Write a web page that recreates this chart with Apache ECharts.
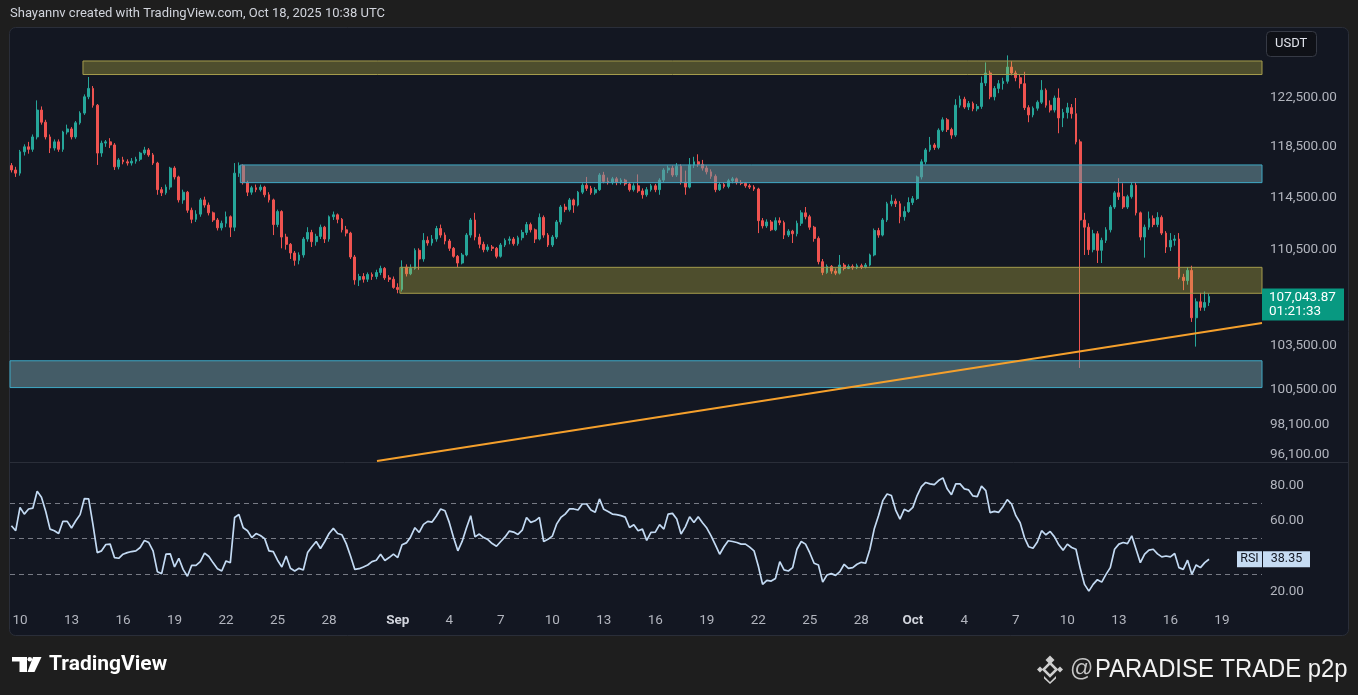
<!DOCTYPE html>
<html><head><meta charset="utf-8">
<script src="https://cdn.jsdelivr.net/npm/echarts@6/dist/echarts.min.js"></script>
<style>html,body{margin:0;padding:0;background:#1e1e1e;}#c{width:1358px;height:695px;}</style>
</head><body><div id="c"></div>
<script>
// ---- data (BTC/USDT, 6h candles) ----
const firstCandle = '2025-08-09T12:00:00Z';
const candleHours = 6;
// [open, close, low, high]
const ohlc = [
[117000,116650,116450,117200],[116650,116400,116100,116900],
[116400,118100,116200,118250],[118100,118500,117800,118700],[118500,118300,117950,118900],[118300,119300,118100,119500],
[119300,121500,119100,122300],[121500,120500,120300,121800],[120500,119300,119100,120700],[119300,118400,118000,119500],
[118400,118900,118200,119100],[118900,118300,118100,119100],[118300,119700,118100,119800],[119700,119950,119500,120300],
[119950,119300,119100,120100],[119300,120450,119150,120600],[120450,121250,120300,121400],[121250,122600,121100,122800],
[122600,123300,122400,124260],[123300,121900,121700,123500],[121900,118000,117050,122000],[118000,118800,117700,119000],
[118800,118900,118500,119050],[118900,118650,118400,119200],[118650,116900,116650,118800],[116900,117450,116700,117600],
[117450,117300,117100,117700],[117300,117200,117000,117500],[117200,117350,117000,117600],[117350,117500,117150,117700],
[117500,118000,117350,118100],[118000,118250,117850,118500],[118250,117850,117700,118400],[117850,117200,117050,118000],
[117200,115100,114700,117300],[115100,114850,114600,115300],[114850,115300,114700,115500],[115300,116800,115100,116900],
[116800,116100,115900,116950],[116100,114300,114100,116200],[114300,114900,114000,115100],[114900,113500,113300,115000],
[113500,112800,112500,113700],[112800,113200,112600,113500],[113200,114300,113000,114450],[114300,113900,113700,114550],
[113900,113300,113100,114100],[113300,112750,112600,113400],[112750,112150,111950,112900],[112150,112500,111950,112700],
[112500,113000,112200,113400],[113000,112200,111450,113100],[112200,116400,111900,117200],[116400,117000,116100,117250],
[117000,115650,115500,117100],[115650,114900,114600,115800],[114900,115250,114700,115400],[115250,115100,114900,115500],
[115100,115300,114950,115500],[115300,114700,114500,115400],[114700,114300,114100,114900],[114300,112400,111600,114400],
[112400,113400,112200,113550],[113400,111450,110600,113500],[111450,110900,110500,111700],[110900,110250,109800,111000],
[110250,109700,109300,110400],[109700,110100,109400,110300],[110100,111300,109900,111450],[111300,111800,111100,112200],
[111800,111100,110700,112000],[111100,111500,110800,111700],[111500,112200,111300,112400],[112200,111300,111000,112300],
[111300,113000,111100,113100],[113000,113150,112750,113400],[113150,112800,112500,113250],[112800,112000,111800,112900],
[112000,111750,111500,112300],[111750,109950,109800,111850],[109950,108250,107900,110100],[108250,108500,107800,108700],
[108500,108300,108050,108750],[108300,108650,108100,108800],[108650,108500,108250,108800],[108500,108800,108300,109000],
[108800,109100,108600,109300],[109100,108400,108250,109200],[108400,108300,108100,108600],[108300,107700,107600,108500],
[107700,107550,107270,108000],[107550,109200,107400,109700],[109200,108700,108500,109400],[108700,109100,108600,109400],
[109100,110450,109000,110600],[110450,109800,109000,110600],[109800,111200,109600,111750],[111200,111000,110800,111500],
[111000,111300,110800,111600],[111300,112100,111100,112300],[112100,111600,111400,112400],[111600,111150,110900,111800],
[111150,110600,110400,111300],[110600,110000,109900,110700],[110000,109500,109200,110100],[109500,110100,109400,110250],
[110100,111600,110000,111750],[111600,112750,111400,112900],[112750,111450,111200,113300],[111450,110900,110600,111700],
[110900,110500,110300,111100],[110500,110700,110350,110900],[110700,110600,110400,110850],[110600,110000,109850,110700],
[110000,110850,109900,111000],[110850,111200,110700,111350],[111200,111300,110900,111500],[111300,110950,110800,111450],
[110950,111400,110800,111550],[111400,111800,111200,112000],[111800,112400,111600,112600],[112400,112000,111800,112550],
[112000,111300,111000,112100],[111300,112950,111200,113250],[112950,111600,111400,113100],[111600,110850,110700,111750],
[110850,111450,110700,111600],[111450,112600,111300,112750],[112600,113750,112400,113900],[113750,113550,113350,114000],
[113550,114300,113400,114450],[114300,113900,113300,114400],[113900,114900,113800,115000],[114900,115450,114750,115600],
[115450,115200,115000,116100],[115200,114850,114700,115400],[114850,115100,114700,115300],[115100,116250,115000,116400],
[116250,115750,115600,116500],[115750,115650,115500,116050],[115650,115950,115500,116100],[115950,115700,115450,116100],
[115700,115850,115500,116000],[115850,115550,115400,115950],[115550,115100,114950,115700],[115100,115400,114950,115600],
[115400,115000,114850,116300],[115000,114700,114400,115200],[114700,115100,114550,115300],[115100,115400,114950,115550],
[115400,115100,114900,115550],[115100,115850,114700,116000],[115850,116650,115700,116800],[116650,116800,116400,117000],
[116800,116250,116100,117000],[116250,116950,116100,117200],[116950,115700,115500,117100],[115700,115300,114700,116600],
[115300,117050,115200,117600],[117050,117300,116800,117700],[117300,117100,116900,117900],[117100,116800,116600,117450],
[116800,116500,116300,117000],[116500,116150,115950,116700],[116150,115100,114900,116300],[115100,115500,115000,115700],
[115500,115350,115200,115650],[115350,115800,115200,115950],[115800,115950,115600,116100],[115950,115650,115500,116050],
[115650,115600,115450,115850],[115600,115400,115250,115700],[115400,115300,115150,115550],[115300,115150,115000,115450],
[115150,112700,111750,115250],[112700,112300,112100,112900],[112300,112600,112150,112800],[112600,112000,111900,112750],
[112000,112700,111900,112950],[112700,112550,112350,112950],[112550,111600,111300,112700],[111600,111900,111450,112050],
[111900,111700,111000,112000],[111700,112500,111500,112700],[112500,113300,112300,113500],[113300,113000,112800,113750],
[113000,112200,112000,113150],[112200,111350,111100,112300],[111350,109600,109400,111500],[109600,108800,108600,109800],
[108800,109250,108700,109400],[109250,108900,108700,109350],[108900,108750,108600,109100],[108750,109350,108650,110100],
[109350,109100,108950,109500],[109100,109250,109050,109400],[109250,109150,109000,109400],[109150,109300,109050,109450],
[109300,109200,109050,109450],[109200,109350,109100,109500],[109350,110100,109250,110200],[110100,111950,110000,112100],
[111950,111600,111400,112150],[111600,112750,111500,112900],[112750,114000,112600,114150],[114000,114200,113800,114700],
[114200,114000,113750,114400],[114000,113000,112500,114200],[113000,113400,112700,113800],[113400,114100,113300,114500],
[114100,114400,113900,114600],[114400,116100,114300,116200],[116100,117300,115900,117500],[117300,118250,117100,118400],
[118250,118650,118100,119300],[118650,118450,118250,118800],[118450,119850,118300,120000],[119850,120700,119700,120900],
[120700,119900,119700,120850],[119900,119450,119150,120050],[119450,121900,119300,122400],[121900,122400,121700,122700],
[122400,121750,121600,122600],[121750,122050,121500,122250],[122050,121600,121400,122200],[121600,121800,121400,122000],
[121800,123750,121600,124300],[123750,124600,123500,125500],[124600,122600,122400,124800],[122600,123300,122300,123500],
[123300,123700,122900,124000],[123700,123900,123200,124200],[123900,125100,123700,126100],[125100,124600,124400,125600],
[124600,124200,123900,124800],[124200,123700,123300,124500],[123700,121700,121500,124700],[121700,121100,120500,121900],
[121100,121650,120900,121800],[121650,122150,121450,122300],[122150,123150,122000,124000],[123150,121900,121700,123300],
[121900,121500,121300,122300],[121500,122500,121300,122700],[122500,120850,119600,123300],[120850,121300,120100,121600],
[121300,121700,120800,122100],[121700,121200,120800,122000],[121200,118900,118700,122500],[118900,112750,101960,119100],
[112750,112200,110100,113300],[112200,110500,110100,112500],[110500,111700,110300,112000],[111700,110450,109500,111900],
[110450,111200,109500,111400],[111200,112000,111000,112200],[112000,113750,111800,113900],[113750,114850,113600,115000],
[114850,114550,114300,116000],[114550,113750,113600,115600],[113750,114550,113600,114700],[114550,115450,114400,115700],
[115450,113300,113100,115700],[113300,111450,111200,113400],[111450,112200,109900,112400],[112200,112850,112000,113400],
[112850,112400,112200,113100],[112400,112950,112200,113350],[112950,111750,111600,113100],[111750,110700,110250,111900],
[110700,111200,110400,111750],[111200,111300,110800,111600],[111300,108450,108300,111750],[108450,108200,107500,108700],
[108200,108950,107900,109200],[108950,105500,105200,109300],[105500,106650,103450,106900],[106650,106250,106000,107300],
[106250,106600,106000,107400],[106600,107043.87,106350,107250]
];
// RSI(14) per candle
const rsi = [
57.3,54.5,67.7,63.9,66.8,67.3,76.8,73.4,65.4,55.4,
54.5,52.9,59.8,59.8,56.0,60.1,63.6,72.7,72.5,57.9,
42.1,43.1,46.7,46.9,39.3,38.9,41.2,42.1,42.7,43.1,
45.0,49.0,47.8,43.1,31.3,30.2,41.2,41.4,34.0,38.9,
32.6,28.7,34.9,34.9,37.0,41.8,39.9,36.3,33.0,31.7,
37.4,36.4,62.0,63.7,56.2,54.5,50.6,52.9,51.8,50.0,
43.1,42.7,37.8,34.0,40.2,33.2,31.7,33.2,32.3,42.1,
45.4,48.4,44.4,48.4,52.9,55.8,52.9,52.2,47.2,40.2,
32.6,33.0,34.0,35.1,37.0,37.8,41.2,37.6,39.3,41.2,
39.3,46.5,47.6,51.0,56.2,53.5,58.1,59.8,59.4,62.8,
66.8,65.8,59.2,50.6,43.1,48.4,56.0,63.0,51.0,52.6,
50.6,49.5,47.2,45.7,48.4,51.0,54.3,53.7,52.4,54.8,
62.0,59.2,60.1,62.0,48.4,49.6,51.4,58.2,62.0,63.9,
66.8,66.8,66.2,69.6,69.6,66.2,64.9,72.5,66.6,65.4,
63.9,63.6,63.0,62.2,56.3,57.9,54.5,55.4,49.0,53.5,
53.7,57.9,55.4,63.9,64.3,61.1,52.6,56.7,62.4,59.2,
62.4,59.0,56.0,51.6,46.5,41.2,45.4,48.8,48.4,47.8,
46.9,46.9,45.2,43.1,34.5,24.1,26.4,26.0,27.5,37.0,
32.3,31.7,33.6,44.0,48.4,46.9,41.9,36.1,35.1,25.4,
29.4,30.2,29.2,31.3,35.5,33.2,33.6,35.5,36.6,36.1,
44.0,55.4,63.0,71.5,75.3,74.4,66.2,61.1,66.6,65.4,
67.7,74.4,79.5,81.8,81.0,80.6,82.9,84.4,78.2,74.9,
81.0,81.0,78.2,77.6,74.2,73.8,79.7,77.2,64.7,65.4,
64.9,68.1,72.1,69.6,63.0,59.0,50.6,45.4,44.6,48.1,
54.5,52.2,54.1,51.0,46.5,43.5,46.9,45.0,44.0,33.2,
24.1,20.3,24.1,26.8,25.4,29.8,33.6,44.0,46.9,47.8,
47.2,51.6,44.0,36.4,41.2,43.5,44.0,41.4,39.7,40.2,
39.7,41.6,33.6,32.6,37.8,29.8,35.1,33.6,36.4,38.35
];
const lastPrice = 107043.87;
const countdown = '01:21:33';
const rsiLast = 38.35;
const priceTicks = [96100, 98100, 100500, 103500, 110500, 114500, 118500, 122500];
const rsiTicks = [20, 60, 80];
const rsiLevels = [70, 50, 30];
const xTicks = [
 ['2025-08-10','10'],['2025-08-13','13'],['2025-08-16','16'],['2025-08-19','19'],['2025-08-22','22'],
 ['2025-08-25','25'],['2025-08-28','28'],['2025-09-01','Sep'],['2025-09-04','4'],['2025-09-07','7'],
 ['2025-09-10','10'],['2025-09-13','13'],['2025-09-16','16'],['2025-09-19','19'],['2025-09-22','22'],
 ['2025-09-25','25'],['2025-09-28','28'],['2025-10-01','Oct'],['2025-10-04','4'],['2025-10-07','7'],
 ['2025-10-10','10'],['2025-10-13','13'],['2025-10-16','16'],['2025-10-19','19']
];
const viewFrom = '2025-08-09T10:01:00Z';
const viewTo = '2025-10-21T08:03:00Z';
const zones = [
 {from:'2025-08-13T16:00:00Z', low:124470, high:125620, kind:'yellow'},
 {from:'2025-08-22T20:00:00Z', low:115650, high:117050, kind:'blue'},
 {from:'2025-09-01T03:00:00Z', low:107270, high:109180, kind:'yellow'},
 {from:'2025-08-09T10:01:00Z', low:100610, high:102460, kind:'blue'}
];
const trendLine = [['2025-08-30T19:00:00Z', 95714], ['2025-10-21T08:03:00Z', 105125]];

// ---- build ----
const t0 = Date.parse(firstCandle);
const times = ohlc.map((_, i) => t0 + i * candleHours * 3600e3);
const xMin = Date.parse(viewFrom), xMax = Date.parse(viewTo);
const tickMap = {};
xTicks.forEach(([d, l]) => { tickMap[Date.parse(d + 'T00:00:00Z')] = l; });
const tickTimes = Object.keys(tickMap).map(Number);

const UP = '#26a69a', DOWN = '#ef5350';
const FONT = 'Roboto';
const fmtPrice = v => (Math.round(v * 100) / 100).toLocaleString('en-US', {minimumFractionDigits: 2, maximumFractionDigits: 2});
const zoneStyle = {
  yellow: {color: 'rgba(200,190,70,0.33)', borderColor: '#a59c4c', borderWidth: 1},
  blue: {color: 'rgba(110,150,160,0.55)', borderColor: '#3fa9c5', borderWidth: 1}
};

const chart = echarts.init(document.getElementById('c'), null, {renderer: 'canvas'});
chart.setOption({
  animation: false,
  backgroundColor: '#1e1e1e',
  textStyle: {fontFamily: FONT},
  grid: [
    {left: 10, right: 96, top: 28, height: 434},
    {left: 10, right: 96, top: 462, height: 143}
  ],
  xAxis: [
    {type: 'value', gridIndex: 0, min: xMin, max: xMax, axisLine: {show: false}, axisTick: {show: false},
     axisLabel: {show: false}, splitLine: {show: false}},
    {type: 'value', gridIndex: 1, min: xMin, max: xMax, axisLine: {show: false}, axisTick: {show: false},
     splitLine: {show: false},
     axisLabel: {customValues: tickTimes, margin: 9, color: '#b2b5be', fontSize: 13.5, fontFamily: FONT, hideOverlap: false,
       formatter: v => { const l = tickMap[v]; if (l === undefined) return ''; return (l === 'Sep' || l === 'Oct') ? '{m|' + l + '}' : l; },
       rich: {m: {color: '#d1d4dc', fontWeight: 'bold', fontSize: 13.5, fontFamily: FONT}}}}
  ],
  yAxis: [
    {type: 'log', logBase: 10, gridIndex: 0, position: 'right', min: 95646, max: 128470,
     axisLine: {show: false}, axisTick: {show: false}, splitLine: {show: false},
     axisLabel: {customValues: priceTicks, formatter: v => fmtPrice(v), color: '#b2b5be', fontSize: 13.5, margin: 8, fontFamily: FONT}},
    {type: 'value', gridIndex: 1, position: 'right', min: 12.45, max: 93.38,
     axisLine: {show: false}, axisTick: {show: false}, splitLine: {show: false},
     axisLabel: {customValues: rsiTicks, formatter: v => Number(v).toFixed(2), color: '#b2b5be', fontSize: 13.5, margin: 8, fontFamily: FONT}}
  ],
  series: [
    {
      type: 'candlestick', xAxisIndex: 0, yAxisIndex: 0, z: 2, barWidth: 2.3,
      data: ohlc.map((v, i) => [times[i], v[0], v[1], v[2], v[3]]),
      encode: {x: 0, y: [1, 2, 3, 4]},
      itemStyle: {color: UP, color0: DOWN, borderColor: UP, borderColor0: DOWN, borderWidth: 1}
    },
    {
      type: 'line', name: 'overlay', xAxisIndex: 0, yAxisIndex: 0, data: [], clip: false, silent: true,
      markArea: {
        z: 3, silent: true, label: {show: false},
        data: zones.map(zn => [
          {coord: [Date.parse(zn.from), zn.low], itemStyle: zoneStyle[zn.kind]},
          {coord: [xMax, zn.high]}
        ])
      },
      markLine: {
        z: 6, silent: true, symbol: ['none', 'none'], label: {show: false},
        lineStyle: {color: '#f5a02c', width: 2, type: 'solid'},
        data: [[{coord: [Date.parse(trendLine[0][0]), trendLine[0][1]]}, {coord: [Date.parse(trendLine[1][0]), trendLine[1][1]]}]]
      },
      markPoint: {
        z: 7, silent: true,
        data: [{
          coord: [xMax, lastPrice], symbol: 'rect', symbolSize: [82, 32], symbolOffset: [41, 8],
          itemStyle: {color: '#089981'},
          label: {show: true, position: 'inside',
            formatter: '{p|' + fmtPrice(lastPrice) + '}\n{p|' + countdown + '}',
            rich: {p: {color: '#ffffff', fontSize: 13.5, fontFamily: FONT, width: 68, align: 'left', lineHeight: 14}}}
        }]
      }
    },
    {
      type: 'line', name: 'RSI', xAxisIndex: 1, yAxisIndex: 1, clip: false, silent: true,
      data: rsi.map((v, i) => [times[i], v]), showSymbol: false, symbol: 'none',
      lineStyle: {color: '#c3daf3', width: 1.7}, z: 4,
      markLine: {
        z: 1, silent: true, symbol: ['none', 'none'], label: {show: false},
        lineStyle: {color: '#777a85', width: 1, type: [5, 4]},
        data: rsiLevels.map(v => ({yAxis: v}))
      },
      markPoint: {
        z: 7, silent: true,
        data: [
          {coord: [xMax, rsiLast], symbol: 'rect', symbolSize: [25, 16], symbolOffset: [-12.5, 0],
           itemStyle: {color: '#c6dcf3'},
           label: {show: true, position: 'inside', formatter: 'RSI', color: '#131722', fontSize: 12.5, fontFamily: FONT}},
          {coord: [xMax, rsiLast], symbol: 'rect', symbolSize: [47, 16], symbolOffset: [24.5, 0],
           itemStyle: {color: '#c6dcf3'},
           label: {show: true, position: 'inside', formatter: rsiLast.toFixed(2), color: '#131722', fontSize: 12.5, fontFamily: FONT}}
        ]
      }
    }
  ],
  graphic: [
    {type: 'rect', z: -10, silent: true, shape: {x: 9.5, y: 27.5, width: 1339, height: 608, r: 6},
     style: {fill: '#131722', stroke: '#2a2e39', lineWidth: 1}},
    {type: 'line', z: -5, silent: true, shape: {x1: 10, y1: 462.5, x2: 1348, y2: 462.5},
     style: {stroke: '#2a2e39', lineWidth: 1}},
    {type: 'text', silent: true, x: 10, y: 14,
     style: {text: 'Shayannv created with TradingView.com, Oct 18, 2025 10:38 UTC', fill: '#d1d4dc', font: '13px Roboto', textVerticalAlign: 'middle'}},
    {type: 'rect', silent: true, shape: {x: 1266.5, y: 31.5, width: 50, height: 25, r: 4},
     style: {fill: '#0f1117', stroke: '#363a45', lineWidth: 1}},
    {type: 'text', silent: true, x: 1275, y: 44,
     style: {text: 'USDT', fill: '#e0e3eb', font: '13px Roboto', textVerticalAlign: 'middle'}},
    {type: 'rect', silent: true, shape: {x: 12, y: 657, width: 15, height: 4.5}, style: {fill: '#ffffff'}},
    {type: 'rect', silent: true, shape: {x: 19.5, y: 657, width: 7.5, height: 15}, style: {fill: '#ffffff'}},
    {type: 'circle', silent: true, shape: {cx: 29.8, cy: 659.3, r: 2.3}, style: {fill: '#ffffff'}},
    {type: 'polygon', silent: true, shape: {points: [[33, 657], [41.5, 657], [34.5, 672], [27.5, 672]]}, style: {fill: '#ffffff'}},
    {type: 'text', silent: true, x: 49, y: 665,
     style: {text: 'TradingView', fill: '#ffffff', font: 'bold 21px Roboto', textVerticalAlign: 'middle'}},
    {type: 'polygon', silent: true, shape: {points: [[1050, 663], [1056.5, 669.5], [1050, 676], [1043.5, 669.5]]},
     style: {fill: 'none', stroke: '#cfcfcf', lineWidth: 2.5}},
    {type: 'polygon', silent: true, shape: {points: [[1040, 666.5], [1043, 669.5], [1040, 672.5], [1037, 669.5]]}, style: {fill: '#cfcfcf'}},
    {type: 'polygon', silent: true, shape: {points: [[1060, 666.5], [1063, 669.5], [1060, 672.5], [1057, 669.5]]}, style: {fill: '#cfcfcf'}},
    {type: 'polygon', silent: true, shape: {points: [[1050, 655.5], [1054.5, 660], [1050, 664.5], [1045.5, 660]]}, style: {fill: '#cfcfcf'}},
    {type: 'polygon', silent: true, shape: {points: [[1044, 676], [1050, 682], [1056, 676], [1056, 678.5], [1050, 684], [1044, 678.5]]}, style: {fill: '#cfcfcf'}},
    {type: 'text', silent: true, x: 1070, y: 670,
     style: {text: '@', fill: '#c4c4c4', font: '23px "Liberation Sans"', textVerticalAlign: 'middle'}},
    {type: 'text', silent: true, x: 1095, y: 670, scaleX: 0.917,
     style: {text: 'PARADISE TRADE p2p', fill: '#f2f2f2', font: '26px "Liberation Sans"', textVerticalAlign: 'middle'}}
  ]
});
</script>
</body></html>
